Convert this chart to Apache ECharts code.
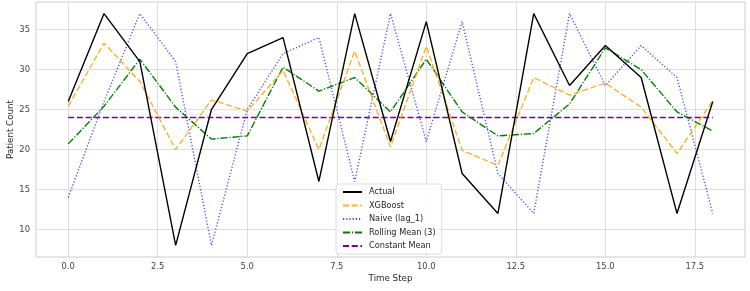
<!DOCTYPE html>
<html>
<head>
<meta charset="utf-8">
<script src="https://cdn.jsdelivr.net/npm/echarts@6/dist/echarts.min.js"></script>
<style>
  html, body { margin: 0; padding: 0; background: #fff; }
  #chart { width: 750px; height: 291px; }
</style>
</head>
<body>
<div id="chart"></div>
<script>
// Values
const timeSteps = [0, 1, 2, 3, 4, 5, 6, 7, 8, 9, 10, 11, 12, 13, 14, 15, 16, 17, 18];
const actual = [26, 37, 31, 8, 25, 32, 34, 16, 37, 21, 36, 17, 12, 37, 28, 33, 29, 12, 26];
const xgboost = [25.4, 33.3, 28.5, 20, 26.2, 24.8, 29.9, 20, 32.3, 20.3, 32.9, 19.9, 18, 29, 26.8, 28.3, 25.3, 19.5, 26.1];
const naive = [14, 26, 37, 31, 8, 25, 32, 34, 16, 37, 21, 36, 17, 12, 37, 28, 33, 29, 12];
const rollingMean = [20.7, 25.4, 31.3, 25.3, 21.3, 21.7, 30.3, 27.3, 29, 24.7, 31.3, 24.7, 21.7, 22, 25.7, 32.7, 30, 24.7, 22.3];
const constantMean = [24, 24, 24, 24, 24, 24, 24, 24, 24, 24, 24, 24, 24, 24, 24, 24, 24, 24, 24];
const xTicks = [0, 2.5, 5, 7.5, 10, 12.5, 15, 17.5];
const yTicks = [10, 15, 20, 25, 30, 35];

const pairs = (ys) => timeSteps.map((t, i) => [t, ys[i]]);

const chart = echarts.init(document.getElementById("chart"));

const font = "DejaVu Sans";

function lineSeries(name, data, color, type, z) {
  return {
    name: name,
    type: "line",
    data: pairs(data),
    showSymbol: false,
    symbol: "none",
    z: z,
    lineStyle: { color: color, width: 1.4, type: type },
    itemStyle: { color: color },
  };
}

chart.setOption({
  animation: false,
  grid: {
    left: 36,
    right: 5,
    top: 2,
    bottom: 34,
    outerBoundsMode: "none",
    containLabel: false,
    show: true,
    borderColor: "#cccccc",
    borderWidth: 1,
  },
  legend: {
    orient: "vertical",
    left: 336,
    top: 184,
    itemWidth: 19,
    itemHeight: 8,
    itemGap: 5.5,
    padding: [4, 6, 4, 6],
    backgroundColor: "rgba(255,255,255,0.85)",
    borderColor: "#dddddd",
    borderWidth: 1,
    borderRadius: 3,
    itemStyle: { opacity: 0, color: "transparent", borderWidth: 0 },
    textStyle: { fontFamily: font, fontSize: 8.2, color: "#262626", padding: [0, 0, 0, 2] },
    data: ["Actual", "XGBoost", "Naive (lag_1)", "Rolling Mean (3)", "Constant Mean"],
  },
  xAxis: {
    type: "value",
    min: -0.9,
    max: 18.9,
    name: "Time Step",
    nameLocation: "middle",
    nameGap: 17,
    nameMoveOverlap: false,
    nameTextStyle: { fontFamily: font, fontSize: 8.7, color: "#262626" },
    axisLine: { show: false },
    axisTick: { show: false, customValues: xTicks },
    axisLabel: {
      customValues: xTicks,
      fontFamily: font,
      fontSize: 8.4,
      color: "#444444",
      margin: 6,
      formatter: (v) => v.toFixed(1),
    },
    splitLine: { show: true, lineStyle: { color: "#dddddd", width: 1 } },
  },
  yAxis: {
    type: "value",
    min: 6.55,
    max: 38.45,
    name: "Patient Count",
    nameLocation: "middle",
    nameGap: 21,
    nameMoveOverlap: false,
    nameTextStyle: { fontFamily: font, fontSize: 8.7, color: "#262626" },
    axisLine: { show: false },
    axisTick: { show: false, customValues: yTicks },
    axisLabel: {
      customValues: yTicks,
      fontFamily: font,
      fontSize: 8.4,
      color: "#444444",
      margin: 6,
    },
    splitLine: { show: true, lineStyle: { color: "#dddddd", width: 1 } },
  },
  series: [
    lineSeries("Actual", actual, "#000000", "solid", 5),
    lineSeries("XGBoost", xgboost, "rgba(255,165,0,0.85)", [6, 2.7], 4),
    lineSeries("Naive (lag_1)", naive, "rgba(0,0,255,0.7)", [1.2, 2], 3),
    lineSeries("Rolling Mean (3)", rollingMean, "#008000", [7.2, 1.8, 1.2, 1.8], 2),
    lineSeries("Constant Mean", constantMean, "#800080", [6, 2.7], 1),
  ],
});
</script>
</body>
</html>
